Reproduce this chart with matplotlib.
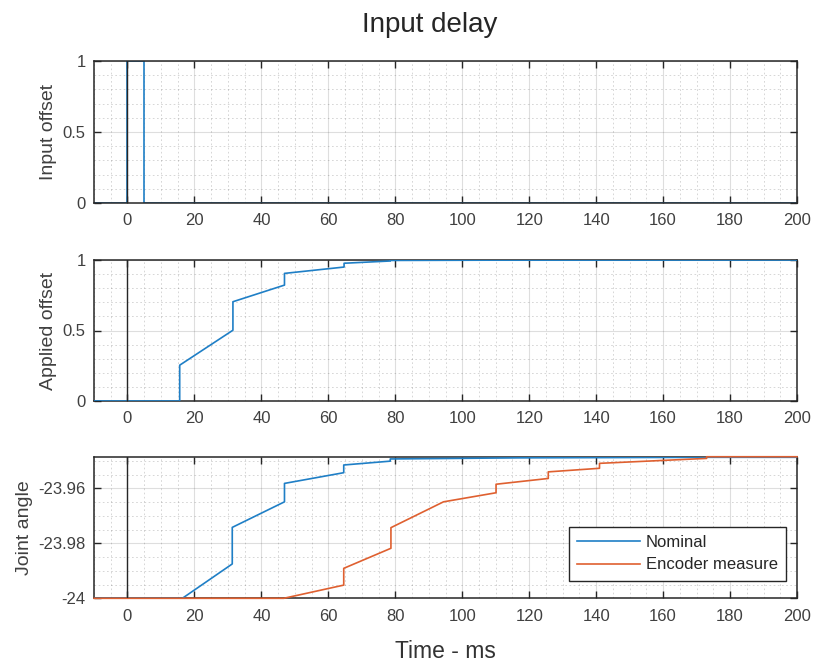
import matplotlib
matplotlib.use("Agg")
import matplotlib.pyplot as plt
from matplotlib.ticker import MultipleLocator, FixedLocator
import numpy as np

plt.rcParams["font.family"] = ["Liberation Sans", "DejaVu Sans"]
plt.rcParams["axes.unicode_minus"] = False

matlab_blue = "#1f7fc6"
matlab_orange = "#df6030"
text_color = "#262626"

# top panel: input offset pulse
input_t = [-10, 0, 0, 5, 5, 200]
input_offset = [0, 0, 1, 1, 0, 0]

# middle panel: applied offset
applied_t = [-10, 15.6, 15.6, 31.5, 31.5, 46.9, 46.9, 64.7, 64.7, 78.5, 78.5, 110, 200]
applied_offset = [0, 0, 0.254, 0.502, 0.704, 0.822, 0.905, 0.950, 0.977, 0.993, 0.997, 0.999, 1.0]

# bottom panel: joint angle
nominal_t = [-10, 16.4, 31.3, 31.3, 46.9, 46.9, 64.6, 64.6, 78.5, 78.5, 117, 173, 200]
nominal_angle = [-24, -24, -23.9875, -23.9742, -23.9649, -23.9582, -23.9543, -23.9515,
                 -23.9501, -23.9493, -23.9489, -23.9487, -23.9487]

encoder_t = [-10, 46.7, 64.6, 64.6, 78.7, 78.7, 94.4, 110.1, 110.1, 125.7, 125.7,
             141.0, 141.0, 173.0, 173.0, 200]
encoder_angle = [-24, -24, -23.9952, -23.9891, -23.9818, -23.9743, -23.9649, -23.9616,
                 -23.9585, -23.9564, -23.9540, -23.9527, -23.9509, -23.9491, -23.9485, -23.9485]

xticks = [0, 20, 40, 60, 80, 100, 120, 140, 160, 180, 200]

fig = plt.figure(figsize=(8.14, 6.64), dpi=100)

left = 94 / 814
width = (797 - 94) / 814
ax1 = fig.add_axes([left, 1 - 203 / 664, width, 142 / 664])
ax2 = fig.add_axes([left, 1 - 401 / 664, width, 141 / 664])
ax3 = fig.add_axes([left, 1 - 598.3 / 664, width, 141 / 664])


def style_axes(ax, ymajor, yminor):
    ax.set_xlim(-10, 200)
    ax.xaxis.set_major_locator(FixedLocator(xticks))
    ax.xaxis.set_minor_locator(MultipleLocator(5))
    ax.yaxis.set_major_locator(FixedLocator(ymajor))
    ax.yaxis.set_minor_locator(MultipleLocator(yminor))
    ax.grid(True, which="major", color=text_color, alpha=0.15, linewidth=0.8)
    ax.grid(True, which="minor", color=text_color, alpha=0.22, linewidth=0.6,
            linestyle=(0, (2, 3)))
    ax.set_axisbelow(True)
    ax.tick_params(which="major", direction="in", top=True, right=True, length=5,
                   width=1.0, color=text_color, labelcolor="#404040", labelsize=12)
    ax.tick_params(axis="x", which="major", pad=7.5)
    ax.tick_params(axis="y", which="major", pad=6)
    ax.tick_params(which="minor", length=0)
    for s in ax.spines.values():
        s.set_color(text_color)
        s.set_linewidth(1.1)
    ax.axvline(0, color=text_color, linewidth=1.0, zorder=3)


ax1.plot(input_t, input_offset, color=matlab_blue, linewidth=1.2, zorder=2)
ax1.set_ylim(0, 1)
style_axes(ax1, [0, 0.5, 1], 0.1)
ax1.set_yticklabels(["0", "0.5", "1"])
ax1.set_ylabel("Input offset", fontsize=14, color="#404040")

ax2.plot(applied_t, applied_offset, color=matlab_blue, linewidth=1.2, zorder=2.6)
ax2.set_ylim(0, 1)
style_axes(ax2, [0, 0.5, 1], 0.1)
ax2.set_yticklabels(["0", "0.5", "1"])
ax2.set_ylabel("Applied offset", fontsize=14, color="#404040")

ax3.plot(nominal_t, nominal_angle, color=matlab_blue, linewidth=1.2, label="Nominal", zorder=2.6)
ax3.plot(encoder_t, encoder_angle, color=matlab_orange, linewidth=1.2,
         label="Encoder measure", zorder=2.7, clip_on=False)
ax3.set_ylim(-24, -23.9487)
style_axes(ax3, [-24, -23.98, -23.96], 0.005)
ax3.set_yticklabels(["-24", "-23.98", "-23.96"])
ax3.set_ylabel("Joint angle", fontsize=14, color="#404040")
ax3.set_xlabel("Time - ms", fontsize=16.5, color="#333333")
ax3.xaxis.set_label_coords(0.5, -0.297)

leg = ax3.legend(loc="lower right", bbox_to_anchor=(0.985, 0.125), fontsize=12,
                 frameon=True, fancybox=False, framealpha=1, edgecolor=text_color,
                 handlelength=3.8, borderpad=0.5, labelspacing=0.45,
                 handletextpad=0.35, borderaxespad=0)
leg.get_frame().set_linewidth(1.0)
leg.set_zorder(5)
for t in leg.get_texts():
    t.set_color(text_color)

fig.text(430 / 814, 1 - 32 / 664, "Input delay", fontsize=20, color=text_color,
         ha="center", va="baseline")

fig.savefig("out.png", dpi=100)
